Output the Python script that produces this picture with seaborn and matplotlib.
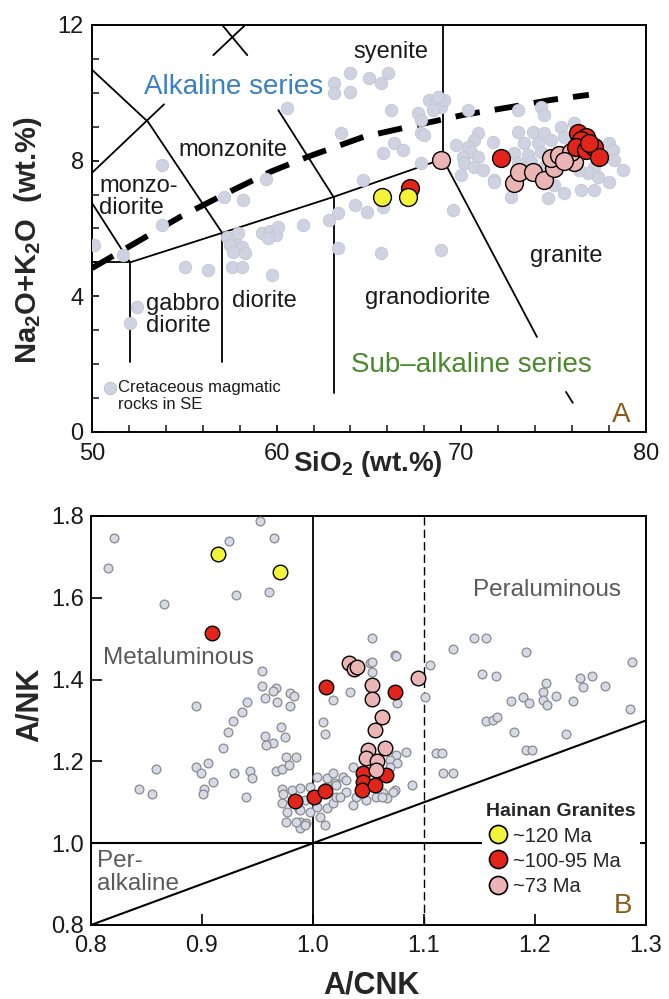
import numpy as np
import pandas as pd
import matplotlib
matplotlib.use("Agg")
import matplotlib.pyplot as plt
from matplotlib.lines import Line2D
from matplotlib.ticker import MultipleLocator
import seaborn as sns

# ---------------- Panel A: total alkali vs silica ----------------
# Cretaceous magmatic rocks of SE China (background field)
se_sio2 = [53.80, 53.80, 50.10, 51.68, 57.16, 58.19, 59.44, 60.58, 61.45, 57.33,
           57.76, 57.49, 58.14, 57.65, 58.30, 57.92, 59.23, 59.66, 59.98, 59.55,
           55.05, 56.29, 57.60, 58.14, 59.77, 52.44, 52.06, 63.08, 63.08, 63.50,
           63.30, 64.00, 64.98, 65.63, 66.01, 64.00, 66.17, 67.63, 65.74, 66.33,
           66.87, 64.70, 67.80, 64.27, 64.92, 65.74, 62.81, 60.09, 63.35, 65.63,
           68.23, 68.61, 68.88, 68.45, 69.04, 68.72, 67.80, 67.96, 69.53, 67.80,
           68.88,
           70.35, 73.06, 74.31, 74.47, 70.89, 70.67, 70.35, 69.70, 71.70, 70.51,
           70.08, 70.89, 70.13, 70.67, 69.97, 71.16, 71.76, 73.06, 73.87, 74.47,
           75.39, 76.10, 73.39, 74.15, 74.85, 75.56, 72.84, 73.60, 74.31, 73.06,
           73.77, 78.00, 78.21, 77.73, 78.27, 78.76, 77.18, 76.86, 77.40, 78.00,
           77.18, 76.48, 75.56, 74.69, 75.01, 72.68, 71.76, 75.23, 76.10, 76.64,
           76.37, 74.47]
se_alk = [7.87, 6.10, 5.51, 5.22, 6.93, 6.84, 7.46, 9.55, 6.10, 5.75,
          5.66, 5.51, 5.45, 5.31, 5.28, 5.87, 5.87, 5.93, 5.81, 5.72,
          4.86, 4.78, 4.86, 4.86, 4.63, 3.69, 3.21, 10.29, 9.99, 8.82,
          6.46, 10.58, 10.44, 10.29, 10.58, 10.02, 9.49, 9.40, 8.23, 8.52,
          8.31, 7.43, 8.81, 6.69, 6.49, 6.63, 6.25, 6.04, 5.42, 5.28,
          9.79, 9.70, 9.58, 9.49, 9.79, 9.88, 9.20, 8.76, 6.54, 7.93,
          5.37,
          9.49, 9.49, 9.58, 9.35, 8.81, 8.61, 8.40, 8.46, 8.55, 8.25,
          8.11, 8.11, 7.93, 7.81, 7.58, 7.72, 7.43, 8.84, 8.84, 8.81,
          8.99, 9.11, 8.52, 8.52, 8.61, 8.70, 8.23, 8.17, 8.25, 7.93,
          7.96, 8.52, 8.31, 8.11, 8.02, 7.72, 7.81, 7.64, 7.52, 7.37,
          7.13, 7.13, 7.05, 6.90, 7.28, 6.93, 7.37, 8.25, 8.25, 8.40,
          7.72, 7.81]

# Hainan granites
g120_sio2 = [65.70, 67.10]
g120_alk = [6.93, 6.93]
g100_sio2 = [67.25, 72.14, 76.32, 76.75, 76.48, 76.21, 76.75, 77.18, 77.45, 76.91]
g100_alk = [7.19, 8.08, 8.81, 8.70, 8.61, 8.40, 8.31, 8.40, 8.11, 8.52]
g73_sio2 = [68.88, 72.84, 73.11, 73.87, 74.47, 75.01, 74.85, 75.28, 76.10, 75.94, 75.56]
g73_alk = [8.02, 7.34, 7.67, 7.67, 7.43, 7.78, 8.08, 8.17, 7.96, 8.25, 8.00]

# Field boundaries of the plutonic TAS diagram (SiO2, Na2O+K2O)
tas_fields = [
    ([50.0, 53.04, 57.05], [10.68, 9.14, 5.87]),
    ([50.0, 53.90], [7.64, 9.66]),
    ([50.0, 52.06], [6.75, 5.00]),
    ([50.0, 52.06], [5.00, 5.00]),
    ([52.06, 52.06], [5.00, 2.06]),
    ([52.06, 57.05, 63.08, 69.00], [5.00, 5.87, 6.93, 8.05]),
    ([57.05, 57.05], [5.87, 2.06]),
    ([60.09, 63.08], [9.49, 6.93]),
    ([63.08, 63.08], [6.93, 1.15]),
    ([69.00, 69.00], [12.0, 8.05]),
    ([69.00, 74.10], [8.05, 2.80]),
    ([75.67, 76.04], [1.18, 0.86]),
    ([57.05, 58.41], [12.0, 11.11]),
    ([56.57, 58.30], [11.11, 12.0]),
]

# Alkaline / sub-alkaline divide
divide_sio2 = [50.0, 54.77, 57.33, 59.66, 61.67, 64.70, 67.09, 70.13, 72.68, 74.85, 76.91]
divide_alk = [4.83, 6.34, 7.05, 7.67, 8.11, 8.70, 8.99, 9.35, 9.58, 9.79, 9.94]

# ---------------- Panel B: A/NK vs A/CNK ----------------
se_acnk = [0.821, 0.815, 0.866, 0.924, 0.952, 0.965, 0.931, 0.960, 0.954, 0.954,
           0.967, 0.964, 0.979, 0.983, 0.957, 0.968, 0.979, 0.941, 0.936, 0.928,
           0.923, 0.895, 0.957, 0.971, 0.975, 0.964, 0.958, 0.919, 1.018, 1.009,
           1.011, 0.976, 0.985, 0.859, 0.895, 0.899, 0.905, 0.910, 0.929, 0.943,
           0.945, 0.967, 0.972, 0.978, 0.843, 0.855, 0.902, 0.901, 0.940, 0.972,
           0.973, 0.981, 0.977, 0.976, 0.988, 0.972, 0.987, 0.988, 0.988, 0.997,
           0.994, 1.006, 1.011, 1.013, 1.004, 1.013, 1.020, 1.018, 1.021, 1.033,
           1.051, 1.053, 1.074, 1.076, 1.105, 1.101, 1.111, 1.075, 1.084, 1.069,
           1.076, 1.074, 1.089, 1.063, 1.036, 1.027, 1.018, 1.012, 1.021, 1.030,
           1.039, 1.048, 1.024, 1.036, 0.997, 0.993, 0.988, 1.004, 0.985, 0.993,
           1.030, 1.057, 1.069, 1.072, 1.067, 1.062, 1.116, 1.117, 1.126, 1.192,
           1.197, 1.053, 1.075, 1.053, 1.126, 1.145, 1.156, 1.192, 1.152, 1.165,
           1.178, 1.189, 1.195, 1.207, 1.210, 1.207, 1.211, 1.219, 1.234, 1.241,
           1.251, 1.243, 1.263, 1.287, 1.286, 1.156, 1.162, 1.166, 1.181, 1.228]
se_anck = [1.745, 1.674, 1.586, 1.738, 1.787, 1.745, 1.608, 1.613, 1.420, 1.384,
           1.379, 1.371, 1.367, 1.359, 1.354, 1.345, 1.335, 1.345, 1.320, 1.298,
           1.271, 1.335, 1.262, 1.284, 1.259, 1.244, 1.240, 1.232, 1.349, 1.296,
           1.266, 1.210, 1.210, 1.181, 1.186, 1.171, 1.196, 1.149, 1.171, 1.176,
           1.159, 1.176, 1.181, 1.191, 1.132, 1.120, 1.132, 1.120, 1.113, 1.132,
           1.120, 1.130, 1.076, 1.052, 1.135, 1.098, 1.083, 1.052, 1.037, 1.076,
           1.049, 1.064, 1.044, 1.086, 1.161, 1.159, 1.147, 1.098, 1.113, 1.369,
           1.440, 1.418, 1.459, 1.342, 1.435, 1.357, 1.220, 1.215, 1.222, 1.203,
           1.196, 1.130, 1.142, 1.122, 1.186, 1.161, 1.171, 1.137, 1.142, 1.125,
           1.113, 1.105, 1.113, 1.093, 1.137, 1.105, 1.081, 1.088, 1.052, 1.044,
           1.154, 1.113, 1.186, 1.125, 1.110, 1.113, 1.220, 1.171, 1.171, 1.227,
           1.227, 1.501, 1.457, 1.442, 1.474, 1.501, 1.501, 1.467, 1.413, 1.408,
           1.347, 1.357, 1.342, 1.369, 1.391, 1.349, 1.337, 1.359, 1.347, 1.403,
           1.408, 1.381, 1.384, 1.442, 1.327, 1.298, 1.301, 1.308, 1.271, 1.266]

h120_acnk = [0.914, 0.970]
h120_anck = [1.706, 1.662]
h100_acnk = [0.909, 1.012, 1.074, 0.984, 1.001, 1.011, 1.045, 1.045, 1.044, 1.056, 1.066]
h100_anck = [1.513, 1.381, 1.369, 1.103, 1.113, 1.127, 1.171, 1.149, 1.130, 1.142, 1.166]
h73_acnk = [1.032, 1.037, 1.040, 1.053, 1.053, 1.062, 1.056, 1.050, 1.065, 1.048, 1.058, 1.057, 1.095]
h73_anck = [1.440, 1.425, 1.430, 1.386, 1.352, 1.308, 1.276, 1.227, 1.232, 1.208, 1.200, 1.179, 1.403]

age_labels = ["~120 Ma", "~100-95 Ma", "~73 Ma"]
age_colors = ["#f3f33a", "#e3241a", "#ebb5b5"]

# ---------------- styling ----------------
sns.set_theme(style="white")
plt.rcParams["font.family"] = ["Liberation Sans", "DejaVu Sans"]
plt.rcParams["mathtext.fontset"] = "custom"
plt.rcParams["mathtext.rm"] = "Liberation Sans"
plt.rcParams["mathtext.bf"] = "Liberation Sans:bold"

fig = plt.figure(figsize=(6.69, 9.99), dpi=100)
axA = fig.add_axes([0.1375, 0.5676, 0.828, 0.4074])
axB = fig.add_axes([0.136, 0.0741, 0.8296, 0.4094])

gray_fill = "#cfd3e1"

# ---- Panel A ----
for xs, ys in tas_fields:
    axA.plot(xs, ys, color="black", lw=1.3, zorder=2)
axA.plot(divide_sio2, divide_alk, color="black", lw=4.2,
         linestyle=(0, (4.2, 2.6)), dash_capstyle="butt", zorder=2)

sns.scatterplot(x=se_sio2, y=se_alk, ax=axA, s=80, color=gray_fill,
                edgecolor="#c2c6d2", linewidth=0.6, zorder=3)
sns.scatterplot(x=g73_sio2, y=g73_alk, ax=axA, s=165, color=age_colors[2],
                edgecolor="black", linewidth=1.0, zorder=4)
sns.scatterplot(x=g100_sio2, y=g100_alk, ax=axA, s=165, color=age_colors[1],
                edgecolor="black", linewidth=1.0, zorder=5)
sns.scatterplot(x=g120_sio2, y=g120_alk, ax=axA, s=165, color=age_colors[0],
                edgecolor="black", linewidth=1.0, zorder=6)

axA.set_xlim(50, 80)
axA.set_ylim(0, 12)
axA.xaxis.set_major_locator(MultipleLocator(10))
axA.xaxis.set_minor_locator(MultipleLocator(2))
axA.yaxis.set_major_locator(MultipleLocator(4))
axA.yaxis.set_minor_locator(MultipleLocator(1))
axA.tick_params(which="both", direction="in", length=5, width=1.2,
                bottom=True, left=True, top=False, right=False)
axA.tick_params(axis="x", labelsize=17, pad=8)
axA.tick_params(axis="y", labelsize=17, pad=6)

field_kw = dict(fontsize=17, color="#1a1a1a", zorder=7)
axA.text(66.2, 11.2, "syenite", ha="center", va="center", **field_kw)
axA.text(57.65, 8.31, "monzonite", ha="center", va="center", **field_kw)
axA.text(50.4, 6.93, "monzo-\ndiorite", ha="left", va="center", linespacing=1.0, **field_kw)
axA.text(52.9, 3.45, "gabbro\ndiorite", ha="left", va="center", linespacing=1.0, **field_kw)
axA.text(59.33, 3.86, "diorite", ha="center", va="center", **field_kw)
axA.text(68.18, 3.95, "granodiorite", ha="center", va="center", **field_kw)
axA.text(75.7, 5.19, "granite", ha="center", va="center", **field_kw)
axA.text(57.65, 10.17, "Alkaline series", ha="center", va="center",
         fontsize=20, color="#3a80c4", zorder=7)
axA.text(70.56, 1.98, "Sub\u2013alkaline series", ha="center", va="center",
         fontsize=20, color="#4a8a2e", zorder=7)
axA.text(78.65, 0.5, "A", ha="center", va="center", fontsize=20, color="#8a5a18")

# background-field key
axA.scatter([50.98], [1.30], s=80, color=gray_fill, edgecolor="#b8bcc8", linewidth=0.6, zorder=7)
axA.text(51.41, 1.52, "Cretaceous magmatic\nrocks in SE", ha="left", va="top",
         fontsize=12, linespacing=1.15, color="#1a1a1a", zorder=7)

axA.set_xlabel(r"SiO$_\mathbf{2}$ (wt.%)", fontsize=20, fontweight="bold")
axA.set_ylabel(r"Na$_\mathbf{2}$O+K$_\mathbf{2}$O  (wt.%)", fontsize=21, fontweight="bold")
axA.xaxis.set_label_coords(0.498, -0.078)
axA.xaxis.label.set_va("center")
axA.yaxis.set_label_coords(-0.115, 0.472)
axA.yaxis.label.set_va("center")

# ---- Panel B ----
axB.axvline(1.0, color="black", lw=1.3, zorder=2)
axB.axvline(1.1, color="black", lw=1.0, linestyle=(0, (6, 3)), zorder=2)
axB.axhline(1.0, color="black", lw=1.5, zorder=2)
axB.plot([0.8, 1.3], [0.8, 1.3], color="black", lw=1.5, zorder=2)

sns.scatterplot(x=se_acnk, y=se_anck, ax=axB, s=40, color="#d6d9e6",
                edgecolor="#8a8a8e", linewidth=0.9, zorder=3)
sns.scatterplot(x=h100_acnk, y=h100_anck, ax=axB, s=110, color=age_colors[1],
                edgecolor="black", linewidth=1.0, zorder=4)
sns.scatterplot(x=h73_acnk, y=h73_anck, ax=axB, s=110, color=age_colors[2],
                edgecolor="black", linewidth=1.0, zorder=5)
sns.scatterplot(x=h120_acnk, y=h120_anck, ax=axB, s=110, color=age_colors[0],
                edgecolor="black", linewidth=1.0, zorder=6)

axB.set_xlim(0.8, 1.3)
axB.set_ylim(0.8, 1.8)
axB.xaxis.set_major_locator(MultipleLocator(0.1))
axB.yaxis.set_major_locator(MultipleLocator(0.2))
axB.tick_params(which="both", direction="in", length=8, width=1.2,
                bottom=True, left=True, top=False, right=False)
axB.tick_params(axis="x", labelsize=17, pad=7)
axB.tick_params(axis="y", labelsize=17, pad=5)

region_kw = dict(fontsize=17.5, color="#5a5a5a", zorder=7)
axB.text(0.811, 1.452, "Metaluminous", ha="left", va="center", **region_kw)
axB.text(1.211, 1.618, "Peraluminous", ha="center", va="center", **region_kw)
axB.text(0.805, 0.929, "Per-\nalkaline", ha="left", va="center", linespacing=1.05, **region_kw)

handles = [Line2D([], [], marker="o", linestyle="none", markersize=13,
                  markerfacecolor=c, markeredgecolor="black", markeredgewidth=1.2)
           for c in age_colors]
leg = axB.legend(handles, age_labels, title="Hainan Granites", loc="lower left",
                 bbox_to_anchor=(0.705, 0.062), fontsize=14.5, frameon=True,
                 facecolor="white", edgecolor="none", framealpha=1.0,
                 handletextpad=0.15, handlelength=1.2, labelspacing=0.3,
                 borderpad=0.2, borderaxespad=0.0, alignment="left")
leg.get_title().set_fontsize(14)
leg.get_title().set_fontweight("bold")
leg.set_zorder(8)

axB.text(1.279, 0.846, "B", ha="center", va="center", fontsize=20,
         color="#8a5a18", zorder=9)

axB.set_xlabel("A/CNK", fontsize=22, fontweight="bold")
axB.set_ylabel("A/NK", fontsize=22, fontweight="bold")
axB.xaxis.set_label_coords(0.506, -0.147)
axB.xaxis.label.set_va("center")
axB.yaxis.set_label_coords(-0.11, 0.538)
axB.yaxis.label.set_va("center")

for ax in (axA, axB):
    for sp in ax.spines.values():
        sp.set_visible(True)
        sp.set_color("black")
        sp.set_linewidth(1.4)
    ax.tick_params(colors="black", labelcolor="#1a1a1a")

fig.savefig("out.png", dpi=100, facecolor="white")
